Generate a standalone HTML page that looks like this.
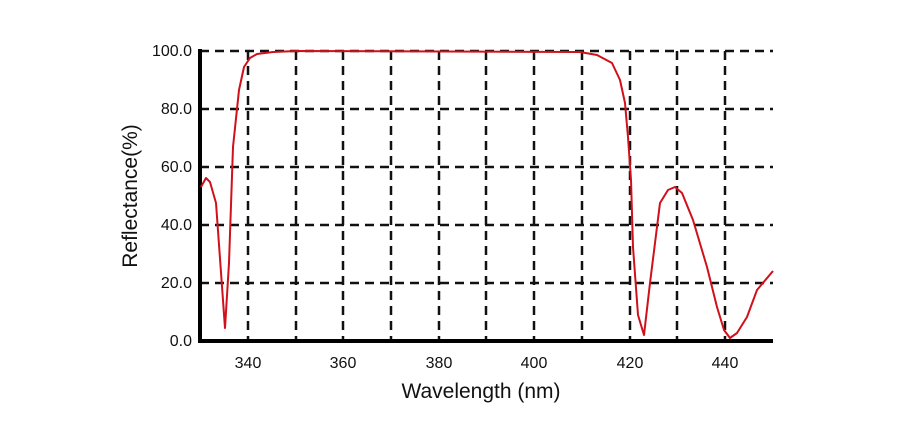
<!DOCTYPE html>
<html><head><style>body{margin:0;background:#fff}svg{display:block}text{font-family:"Liberation Sans",Arial,sans-serif;fill:#111}</style></head>
<body>
<svg width="924" height="440" viewBox="0 0 924 440">
<g stroke="#111" stroke-width="2.5" stroke-dasharray="9,6" fill="none">
<line x1="200" y1="51" x2="773" y2="51"/>
<line x1="200" y1="109" x2="773" y2="109"/>
<line x1="200" y1="167" x2="773" y2="167"/>
<line x1="200" y1="225" x2="773" y2="225"/>
<line x1="200" y1="283" x2="773" y2="283"/>
<line x1="248" y1="51" x2="248" y2="341"/>
<line x1="296" y1="51" x2="296" y2="341"/>
<line x1="343" y1="51" x2="343" y2="341"/>
<line x1="391" y1="51" x2="391" y2="341"/>
<line x1="439" y1="51" x2="439" y2="341"/>
<line x1="486" y1="51" x2="486" y2="341"/>
<line x1="534" y1="51" x2="534" y2="341"/>
<line x1="582" y1="51" x2="582" y2="341"/>
<line x1="630" y1="51" x2="630" y2="341"/>
<line x1="677" y1="51" x2="677" y2="341"/>
<line x1="725" y1="51" x2="725" y2="341"/>
</g>
<line x1="200" y1="49" x2="200" y2="343" stroke="#000" stroke-width="4"/>
<line x1="198" y1="341" x2="773" y2="341" stroke="#000" stroke-width="4"/>
<polyline fill="none" stroke="#d0101a" stroke-width="2" stroke-linejoin="round" points="201,187 206,178 210,182 216,203 225,328 229,263 233,147 239,90 244,67 250,58 257,54 273,52 297,51 580,52 597,55 612,63 620,80 625,103 628,137 631,180 633,247 638,315 644,335 650,283 660,203 668,190 675,187 682,193 693,220 707,267 717,307 724,330 730,338 737,333 747,317 757,290 773,271"/>
<g font-size="16" text-anchor="end">
<text x="192" y="56">100.0</text>
<text x="192" y="114">80.0</text>
<text x="192" y="172">60.0</text>
<text x="192" y="230">40.0</text>
<text x="192" y="288">20.0</text>
<text x="192" y="346">0.0</text>
</g>
<g font-size="16" text-anchor="middle">
<text x="248" y="368">340</text>
<text x="343" y="368">360</text>
<text x="439" y="368">380</text>
<text x="534" y="368">400</text>
<text x="630" y="368">420</text>
<text x="725" y="368">440</text>
</g>
<text x="481" y="398" font-size="21" text-anchor="middle">Wavelength (nm)</text>
<text transform="translate(137,196) rotate(-90)" font-size="21" text-anchor="middle">Reflectance(%)</text>
</svg>
</body></html>
